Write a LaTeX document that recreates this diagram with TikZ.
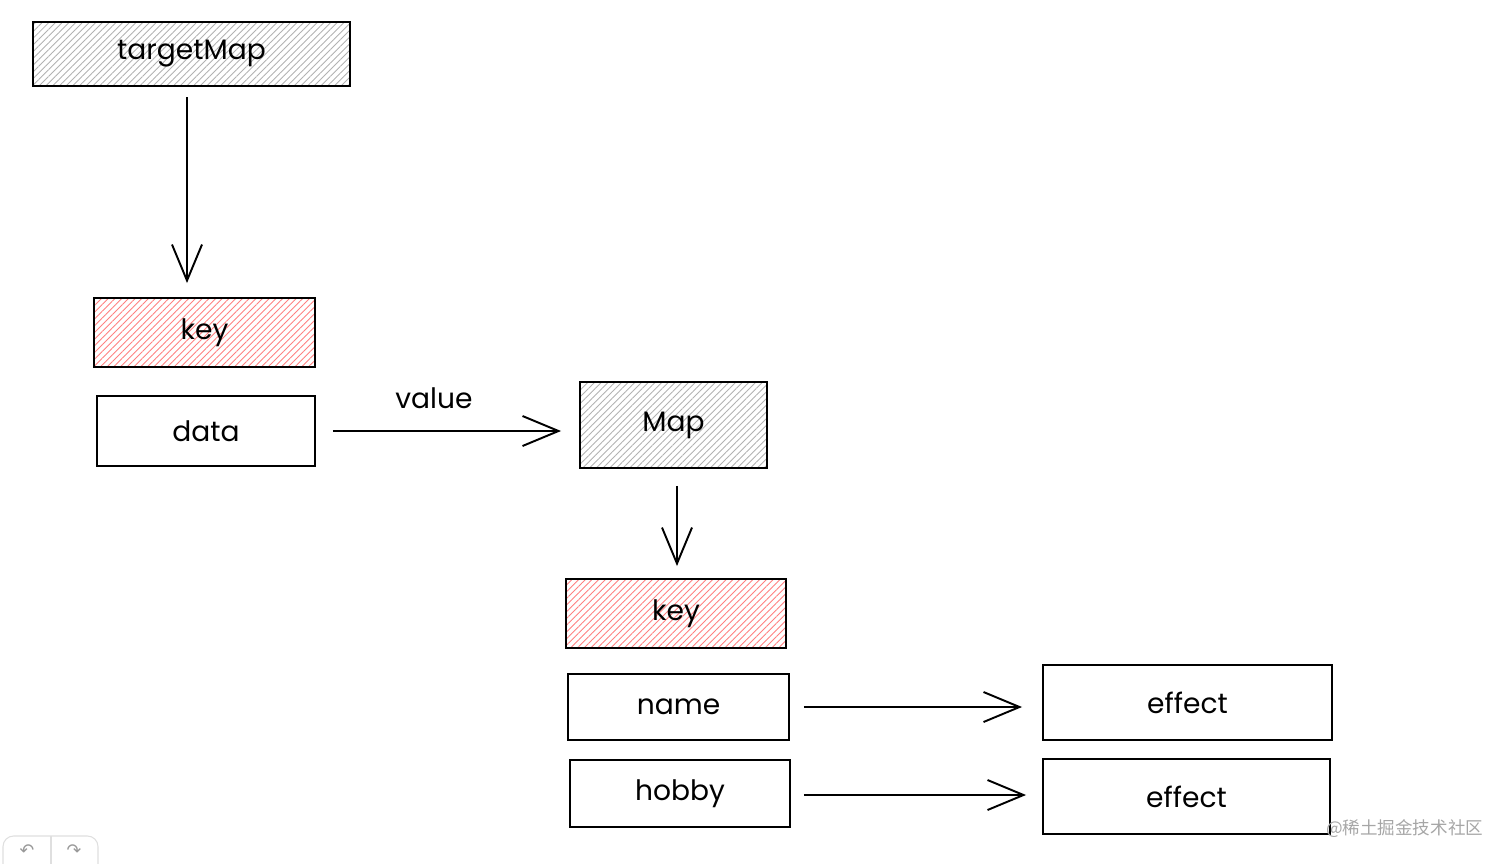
\documentclass[tikz,border=0pt]{standalone}
\usepackage{fontspec}
\setmainfont{Poppins}
\newfontfamily\cjkfont{Noto Sans CJK SC}
\newfontfamily\symfont{DejaVu Sans}
\usetikzlibrary{arrows.meta,patterns.meta}

\begin{document}
\begin{tikzpicture}[x=0.02cm, y=-0.02cm,
                    line width=1.1pt,
                    font=\fontsize{16}{19}\selectfont,
                    box/.style n args={2}{draw,rectangle,
                    minimum width=#1*0.02cm,
                    minimum height=#2*0.02cm,
                    inner sep=0pt},
                    grp/.style n args={3}{box={#2}{#3},
                    pattern={Lines[angle=45,distance=2.7pt,line width=0.5pt]},
                    pattern color=#1},
                    link/.style={-{Straight Barb[length=0.72cm,width=0.6cm]}}]
    \useasboundingbox (0,0) rectangle (1512,863);
    \clip (0,0) rectangle (1512,863);

    % first level
    \node[grp={gray!60}{317}{64}](targetMap) at (191.5,54) {targetMap};
    \node[grp={red!50}{221}{69}](key1) at (204.5,332.5) {key};
    \node[box={218}{70}](data) at (206,431) {data};

    % second level
    \node[grp={gray!60}{187}{86}](Map) at (673.5,425) {Map};
    \node[grp={red!50}{220}{69}](key2) at (676,613.5) {key};
    \node[box={221}{66}](name) at (678.5,707) {name};
    \node[box={220}{67}](hobby) at (680,793.5) {hobby};
    \node[box={289}{75}](effect1) at (1187.5,702.5) {effect};
    \node[box={287}{75}](effect2) at (1186.5,796.5) {effect};

    \draw[link,shorten <=0.22cm,shorten >=0.28cm]
        ([xshift=-0.09cm]targetMap.south) -- ([xshift=-0.09cm]targetMap.south |- key1.north);
    \draw[link,shorten <=0.34cm,shorten >=0.36cm]
        (data.east) -- (data.east -| Map.west)
        node[midway,above=0.3cm,xshift=-0.27cm] (value) {value};
    \draw[link,shorten <=0.34cm,shorten >=0.24cm]
        ([xshift=0.07cm]Map.south) -- ([xshift=0.07cm]Map.south |- key2.north);
    \draw[link,shorten <=0.28cm,shorten >=0.4cm]
        (name.east) -- (name.east -| effect1.west);
    \draw[link,shorten <=0.26cm,shorten >=0.32cm]
        ([yshift=-0.03cm]hobby.east) -- ([yshift=-0.03cm]hobby.east -| effect2.west);

    % page furniture
    \node[anchor=east,text=gray!70,font=\cjkfont\fontsize{10}{12}\selectfont] (mark) at (1490,829) {@稀土掘金技术社区};
    \draw[gray!25,line width=0.6pt,rounded corners=6pt] (3,875) |- (98,836) -- (98,875);
    \draw[gray!25,line width=0.6pt] (51,836) -- (51,875);
    \node[text=gray!80,font=\symfont\fontsize{10}{12}\selectfont] (undo) at (27,851) {↶};
    \node[text=gray!80,font=\symfont\fontsize{10}{12}\selectfont] (redo) at (74,851) {↷};
\end{tikzpicture}
\end{document}
